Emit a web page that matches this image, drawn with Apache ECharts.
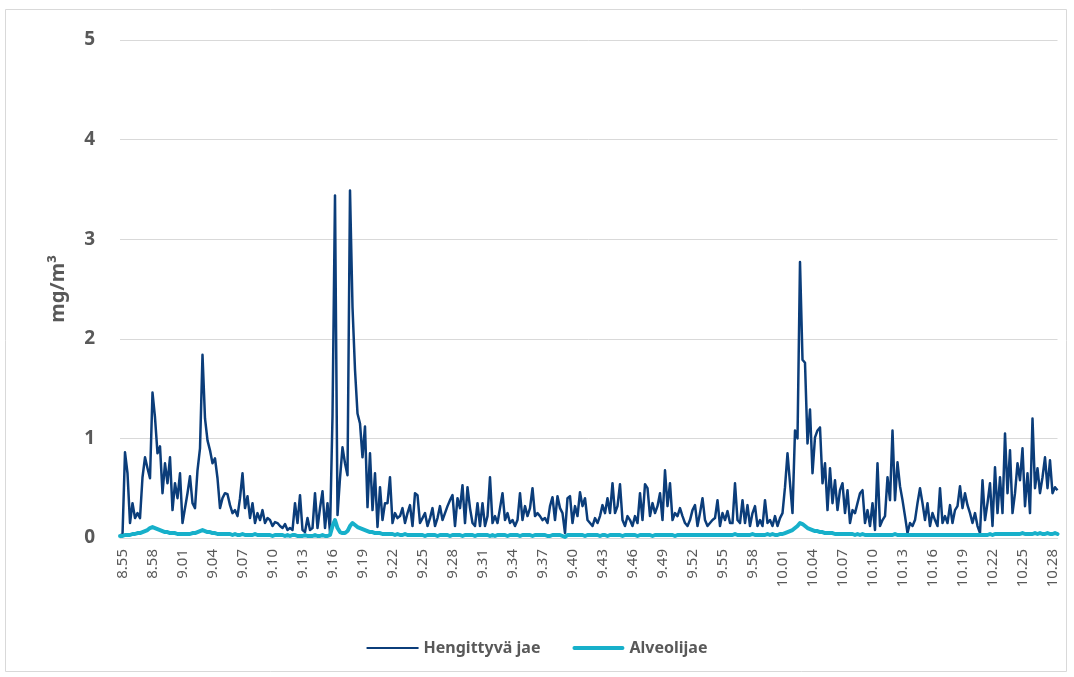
<!DOCTYPE html>
<html>
<head>
<meta charset="utf-8">
<script src="https://cdn.jsdelivr.net/npm/echarts@6/dist/echarts.min.js"></script>
<style>
html,body{margin:0;padding:0;background:#fff;}
#chart{width:1074px;height:677px;}
</style>
</head>
<body>
<div id="chart"></div>
<script>
// Sampling: every 15 seconds starting 8:54:45
const startTime = '8.54.45';
const stepSeconds = 15;

const tickLabels = ['8.55','8.58','9.01','9.04','9.07','9.10','9.13','9.16','9.19','9.22','9.25','9.28','9.31','9.34','9.37','9.40','9.43','9.46','9.49','9.52','9.55','9.58','10.01','10.04','10.07','10.10','10.13','10.16','10.19','10.22','10.25','10.28'];

const yTicks = [0, 1, 2, 3, 4, 5];

// Hengittyvä jae (mg/m3), 4 samples per minute
const hengittyva = [
0.03,0.03,0.86,0.65, 0.15,0.35,0.2,0.25, 0.2,0.61,0.81,0.7, 0.6,1.46,1.21,0.85,
0.92,0.45,0.75,0.55, 0.81,0.28,0.55,0.4, 0.65,0.15,0.3,0.45, 0.62,0.35,0.3,0.68,
0.9,1.84,1.2,0.98, 0.88,0.75,0.8,0.6, 0.3,0.4,0.45,0.44, 0.33,0.25,0.28,0.22,
0.4,0.65,0.3,0.42, 0.2,0.35,0.15,0.25, 0.18,0.28,0.15,0.2, 0.18,0.12,0.16,0.15,
0.12,0.1,0.14,0.08, 0.1,0.08,0.35,0.15, 0.43,0.08,0.06,0.2, 0.08,0.1,0.45,0.1,
0.3,0.47,0.1,0.35, 0.06,1.22,3.44,0.23, 0.6,0.91,0.75,0.63, 3.49,2.32,1.69,1.25,
1.15,0.81,1.12,0.31, 0.85,0.28,0.65,0.11, 0.51,0.18,0.35,0.35, 0.61,0.15,0.25,0.2,
0.22,0.3,0.15,0.25, 0.33,0.12,0.45,0.43, 0.15,0.2,0.25,0.12, 0.2,0.3,0.12,0.2,
0.32,0.18,0.25,0.32, 0.38,0.43,0.12,0.4, 0.3,0.53,0.15,0.51, 0.3,0.15,0.12,0.35,
0.12,0.35,0.12,0.22, 0.61,0.15,0.22,0.15, 0.3,0.45,0.18,0.25, 0.15,0.18,0.12,0.18,
0.45,0.18,0.32,0.22, 0.3,0.5,0.22,0.25, 0.22,0.18,0.2,0.15, 0.32,0.41,0.18,0.42,
0.3,0.25,0.05,0.4, 0.42,0.15,0.32,0.22, 0.46,0.32,0.4,0.18, 0.15,0.12,0.2,0.15,
0.22,0.33,0.25,0.4, 0.25,0.55,0.25,0.32, 0.54,0.18,0.12,0.22, 0.18,0.12,0.22,0.15,
0.45,0.18,0.54,0.5, 0.22,0.35,0.25,0.32, 0.45,0.18,0.68,0.32, 0.55,0.18,0.25,0.22,
0.3,0.22,0.15,0.12, 0.18,0.28,0.33,0.12, 0.25,0.4,0.18,0.12, 0.15,0.18,0.2,0.38,
0.12,0.25,0.18,0.27, 0.15,0.15,0.55,0.18, 0.15,0.38,0.15,0.33, 0.12,0.25,0.32,0.12,
0.18,0.12,0.38,0.15, 0.18,0.12,0.22,0.12, 0.2,0.25,0.51,0.85, 0.55,0.25,1.08,1.0,
2.77,1.79,1.76,0.95, 1.29,0.65,1.01,1.08, 1.11,0.55,0.75,0.28, 0.7,0.35,0.58,0.28,
0.48,0.55,0.25,0.48, 0.15,0.28,0.25,0.35, 0.45,0.48,0.15,0.28, 0.12,0.35,0.08,0.75,
0.12,0.18,0.22,0.61, 0.38,1.08,0.38,0.76, 0.52,0.38,0.22,0.05, 0.15,0.12,0.18,0.35,
0.5,0.35,0.18,0.35, 0.12,0.25,0.18,0.12, 0.5,0.15,0.22,0.15, 0.33,0.15,0.28,0.32,
0.52,0.3,0.45,0.33, 0.25,0.15,0.25,0.12, 0.05,0.58,0.18,0.35, 0.55,0.12,0.71,0.25,
0.61,0.25,1.05,0.45, 0.88,0.25,0.45,0.75, 0.58,0.9,0.32,0.65, 0.25,1.2,0.5,0.7,
0.45,0.61,0.81,0.5, 0.78,0.45,0.51,0.48
];

// Alveolijae (mg/m3), 4 samples per minute
const alveoli = [
0.02,0.02,0.03,0.03, 0.03,0.04,0.04,0.05, 0.05,0.06,0.07,0.08, 0.1,0.11,0.1,0.09,
0.08,0.07,0.06,0.06, 0.05,0.05,0.05,0.04, 0.04,0.04,0.04,0.04, 0.04,0.05,0.05,0.06,
0.07,0.08,0.07,0.06, 0.06,0.05,0.05,0.04, 0.04,0.04,0.04,0.04, 0.04,0.03,0.04,0.03,
0.03,0.04,0.03,0.03, 0.03,0.03,0.04,0.03, 0.03,0.03,0.03,0.03, 0.03,0.02,0.03,0.03,
0.03,0.03,0.02,0.03, 0.02,0.03,0.03,0.02, 0.02,0.02,0.03,0.02, 0.02,0.02,0.03,0.02,
0.02,0.03,0.02,0.02, 0.03,0.12,0.18,0.1, 0.06,0.05,0.05,0.07, 0.12,0.15,0.13,0.11,
0.1,0.09,0.08,0.07, 0.06,0.06,0.05,0.05, 0.05,0.04,0.04,0.04, 0.04,0.04,0.03,0.04,
0.03,0.03,0.04,0.03, 0.03,0.03,0.03,0.03, 0.03,0.03,0.02,0.03, 0.03,0.03,0.03,0.02,
0.03,0.03,0.03,0.03, 0.02,0.03,0.03,0.03, 0.03,0.02,0.03,0.03, 0.03,0.03,0.02,0.03,
0.03,0.03,0.03,0.03, 0.02,0.03,0.02,0.03, 0.03,0.03,0.03,0.02, 0.03,0.03,0.03,0.03,
0.02,0.03,0.03,0.03, 0.03,0.02,0.03,0.03, 0.03,0.03,0.03,0.02, 0.02,0.03,0.03,0.03,
0.03,0.02,0.01,0.03, 0.03,0.03,0.03,0.03, 0.03,0.03,0.02,0.03, 0.03,0.03,0.03,0.03,
0.02,0.03,0.03,0.02, 0.03,0.03,0.03,0.03, 0.03,0.02,0.03,0.03, 0.03,0.03,0.03,0.02,
0.03,0.03,0.03,0.03, 0.03,0.02,0.03,0.03, 0.03,0.03,0.03,0.03, 0.03,0.03,0.02,0.03,
0.03,0.03,0.03,0.03, 0.03,0.03,0.03,0.03, 0.03,0.03,0.03,0.03, 0.03,0.03,0.03,0.03,
0.03,0.03,0.03,0.03, 0.03,0.03,0.04,0.03, 0.03,0.03,0.03,0.03, 0.03,0.04,0.03,0.03,
0.03,0.03,0.03,0.04, 0.03,0.04,0.03,0.03, 0.04,0.04,0.05,0.06, 0.07,0.08,0.1,0.12,
0.15,0.14,0.12,0.1, 0.09,0.08,0.07,0.07, 0.06,0.06,0.05,0.05, 0.05,0.05,0.04,0.04,
0.04,0.04,0.04,0.04, 0.04,0.04,0.03,0.04, 0.03,0.04,0.03,0.03, 0.03,0.03,0.03,0.03,
0.03,0.03,0.03,0.03, 0.03,0.03,0.04,0.03, 0.03,0.03,0.03,0.03, 0.03,0.03,0.03,0.03,
0.03,0.03,0.03,0.03, 0.03,0.03,0.03,0.03, 0.03,0.03,0.03,0.03, 0.03,0.03,0.03,0.03,
0.03,0.03,0.03,0.03, 0.03,0.03,0.03,0.03, 0.03,0.03,0.03,0.03, 0.04,0.03,0.04,0.04,
0.04,0.04,0.04,0.04, 0.04,0.04,0.04,0.04, 0.04,0.05,0.04,0.04, 0.04,0.04,0.05,0.04,
0.05,0.04,0.04,0.05, 0.04,0.04,0.05,0.04
];

// Build time categories
const [h0, m0, s0] = startTime.split('.').map(Number);
const t0 = h0 * 3600 + m0 * 60 + s0;
const categories = hengittyva.map((_, i) => {
  const t = t0 + i * stepSeconds;
  const h = Math.floor(t / 3600), m = Math.floor((t % 3600) / 60), s = t % 60;
  return h + '.' + String(m).padStart(2, '0') + '.' + String(s).padStart(2, '0');
});
const labelIndex = {};
categories.forEach((c, i) => {
  const short = c.slice(0, c.lastIndexOf('.'));
  if (c.endsWith('.00') && tickLabels.includes(short)) labelIndex[i] = short;
});

const gray = '#595959';
const navy = '#0B3D7A';
const cyan = '#17B0CA';
// legend icons: thin bars inside a 14px-high box
const thinIcon = 'path://M0,6H52V8H0Z M0,0H0.1V0.1H0Z M51.9,13.9H52V14H51.9Z';
const thickIcon = 'path://M2,5H50A2,2 0 0 1 50,9H2A2,2 0 0 1 2,5Z M0,0H0.1V0.1H0Z M51.9,13.9H52V14H51.9Z';

const chart = echarts.init(document.getElementById('chart'), null, { renderer: 'canvas' });
chart.setOption({
  animation: false,
  backgroundColor: '#fff',
  graphic: [{
    type: 'rect', silent: true, z: -1,
    shape: { x: 5.5, y: 9.5, width: 1061, height: 662 },
    style: { fill: 'none', stroke: '#d9d9d9', lineWidth: 1 }
  }],
  grid: { left: 120, right: 16.5, top: 40, bottom: 139 },
  legend: {
    bottom: 16,
    left: 'center',
    itemWidth: 52,
    itemHeight: 14,
    itemGap: 32,
    textStyle: { color: gray, fontSize: 16, fontWeight: 'bold', fontFamily: 'Noto Sans' },
    data: [
      { name: 'Hengittyvä jae', icon: thinIcon },
      { name: 'Alveolijae', icon: thickIcon }
    ]
  },
  xAxis: {
    type: 'category',
    data: categories,
    boundaryGap: false,
    axisTick: { show: false },
    axisLine: { show: true, lineStyle: { color: '#d9d9d9', width: 1 } },
    axisLabel: {
      rotate: 90,
      margin: 11,
      color: gray,
      fontSize: 15,
      fontFamily: 'Noto Sans',
      interval: (idx) => idx in labelIndex,
      formatter: (val, idx) => labelIndex[idx] || ''
    },
    splitLine: { show: false }
  },
  yAxis: {
    type: 'value',
    min: yTicks[0],
    max: yTicks[yTicks.length - 1],
    interval: 1,
    name: 'mg/m³',
    nameLocation: 'middle',
    nameGap: 52,
    nameTextStyle: { color: gray, fontSize: 20, fontWeight: 'bold', fontFamily: 'Noto Sans' },
    axisLine: { show: false },
    axisTick: { show: false },
    axisLabel: { color: gray, fontSize: 19, fontWeight: 'bold', fontFamily: 'Noto Sans', margin: 25 },
    splitLine: { lineStyle: { color: '#d9d9d9', width: 1 } }
  },
  series: [
    {
      name: 'Hengittyvä jae',
      type: 'line',
      data: hengittyva,
      symbol: 'none',
      lineStyle: { color: navy, width: 2.5, join: 'round' },
      itemStyle: { color: navy }
    },
    {
      name: 'Alveolijae',
      type: 'line',
      data: alveoli,
      symbol: 'none',
      lineStyle: { color: cyan, width: 4, cap: 'round', join: 'round' },
      itemStyle: { color: cyan }
    }
  ]
});
</script>
</body>
</html>
